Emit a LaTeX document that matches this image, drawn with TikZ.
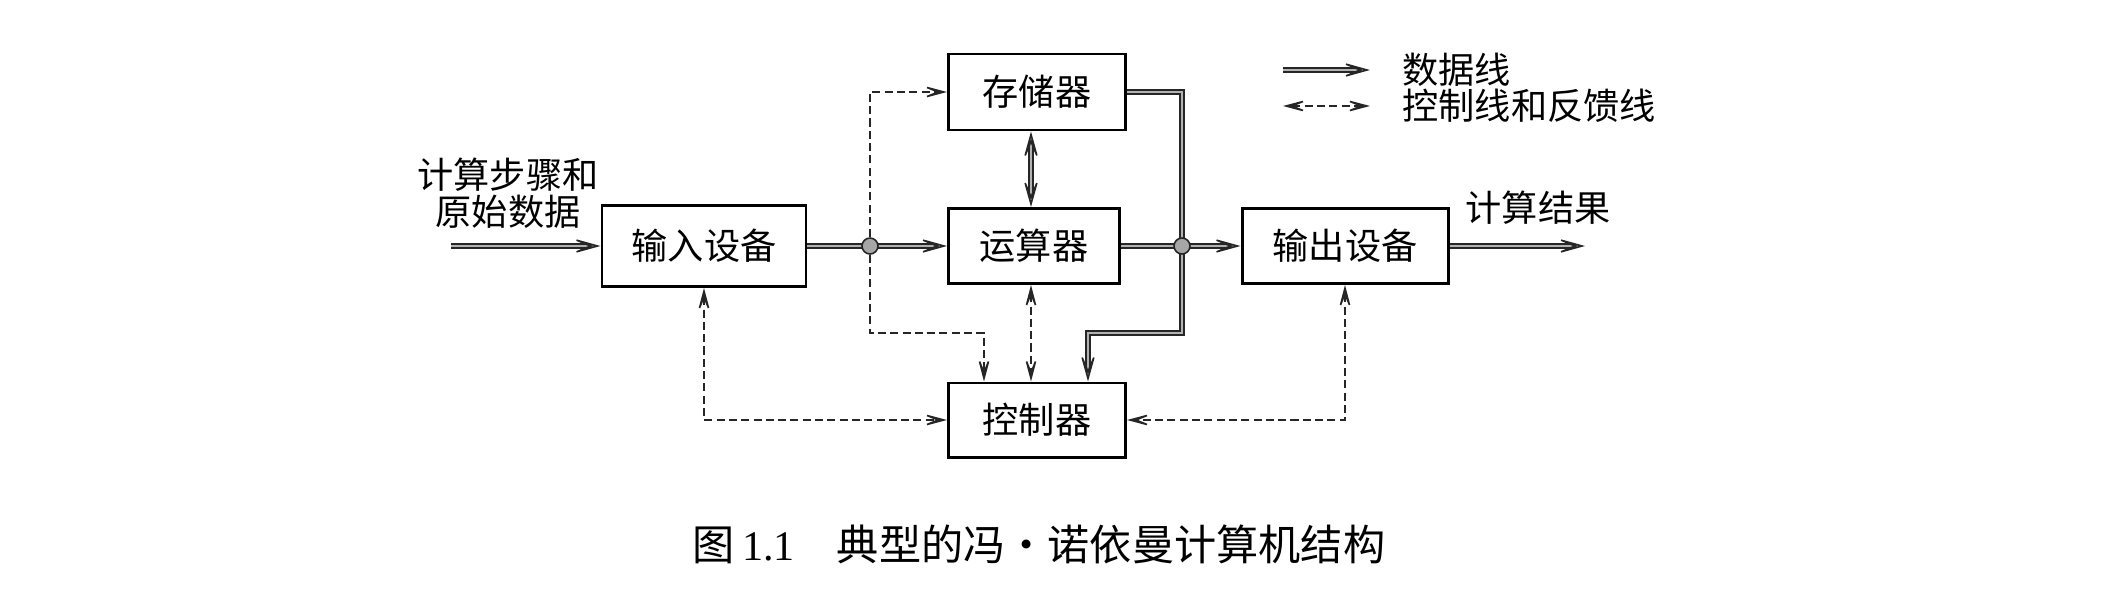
\documentclass[tikz,border=0pt]{standalone}
\usepackage{fontspec}
\setmainfont{Noto Sans CJK SC}
\newfontfamily\numfont{Liberation Serif}
\usetikzlibrary{arrows.meta,positioning}

\tikzset{
  unit/.style={draw, line width=0.85pt, font=\fontsize{10.3pt}{11pt}\selectfont},
  dataline/.style={line width=0.55pt, draw=black!85, double=gray!60, double distance=0.8pt,
    >={Stealth[length=3.6mm, width=2mm, inset=2.4mm, fill=gray!60, line width=0.45pt]}, ->},
  ctrlline/.style={line width=0.7pt, draw=black!85, dash pattern=on 2.3pt off 1.2pt,
    >={Stealth[length=3.2mm, width=1.7mm, inset=2.1mm, fill=gray!45, line width=0.45pt]}, ->},
  joint/.style={circle, draw=black!85, line width=0.45pt, fill=gray!70, inner sep=0pt, minimum size=0.16cm},
  lbl/.style={font=\fontsize{10.3pt}{10.6pt}\selectfont}
}

\begin{document}
\begin{tikzpicture}[x=1cm, y=-1cm]
    \useasboundingbox (0,0) rectangle (21.06,6.00);

    \node[unit, minimum width=1.77cm, minimum height=0.76cm] (mem) at (10.37,0.92) {存储器};
    \node[unit, minimum width=1.71cm, minimum height=0.75cm] (alu) at (10.34,2.46) {运算器};
    \node[unit, minimum width=1.77cm, minimum height=0.74cm] (ctl) at (10.37,4.20) {控制器};
    \node[unit, minimum width=2.04cm, minimum height=0.81cm] (inp) at (7.04,2.46) {输入设备};
    \node[unit, minimum width=2.06cm, minimum height=0.75cm] (out) at (13.45,2.46) {输出设备};

    \coordinate (src) at (4.51,2.46);
    \coordinate (dst) at (15.85,2.46);
    \coordinate (cx) at (10.31,0);
    \coordinate (b1) at (11.82,3.33);
    \coordinate (b2) at (10.88,3.33);
    \coordinate (c1) at (9.84,3.33);

    % data lines
    \draw[dataline] (src) -- (inp);
    \draw[dataline] (inp) -- (alu);
    \draw[dataline] (alu) -- (out);
    \draw[dataline] (out) -- (dst);
    \draw[dataline, <->] (mem.south -| cx) -- (alu.north -| cx);
    \draw[dataline] (mem.east) -| (b1) -- (b2) -- (b2 |- ctl.north);

    \node[joint] (j1) at (8.70,2.46) {};
    \node[joint] (j2) at (11.82,2.46) {};

    % control and feedback lines
    \draw[ctrlline] (j1) |- (mem.west);
    \draw[ctrlline] (j1) |- (c1) -- (c1 |- ctl.north);
    \draw[ctrlline, <->] (alu.south -| cx) -- (ctl.north -| cx);
    \draw[ctrlline, <->] (inp.south) |- (ctl.west);
    \draw[ctrlline, <->] (out.south) |- (ctl.east);

    \node[lbl, align=center] (steps) at (5.08,1.93) {计算步骤和\\原始数据};
    \node[lbl] (result) at (15.38,2.08) {计算结果};

    % legend
    \coordinate (d1) at (12.83,0.70);
    \coordinate (d2) at (13.70,0.70);
    \coordinate (k1) at (12.83,1.06);
    \coordinate (k2) at (13.70,1.06);
    \draw[dataline] (d1) -- (d2);
    \draw[ctrlline, <->] (k1) -- (k2);
    \node[lbl, anchor=west] (ldata) at (13.90,0.70) {数据线};
    \node[lbl, anchor=west] (lctrl) at (13.90,1.06) {控制线和反馈线};

    \node[font=\fontsize{12pt}{14pt}\selectfont] (caption) at (10.39,5.44) {图\,{\numfont 1.1}\quad 典型的冯·诺依曼计算机结构};
\end{tikzpicture}
\end{document}
